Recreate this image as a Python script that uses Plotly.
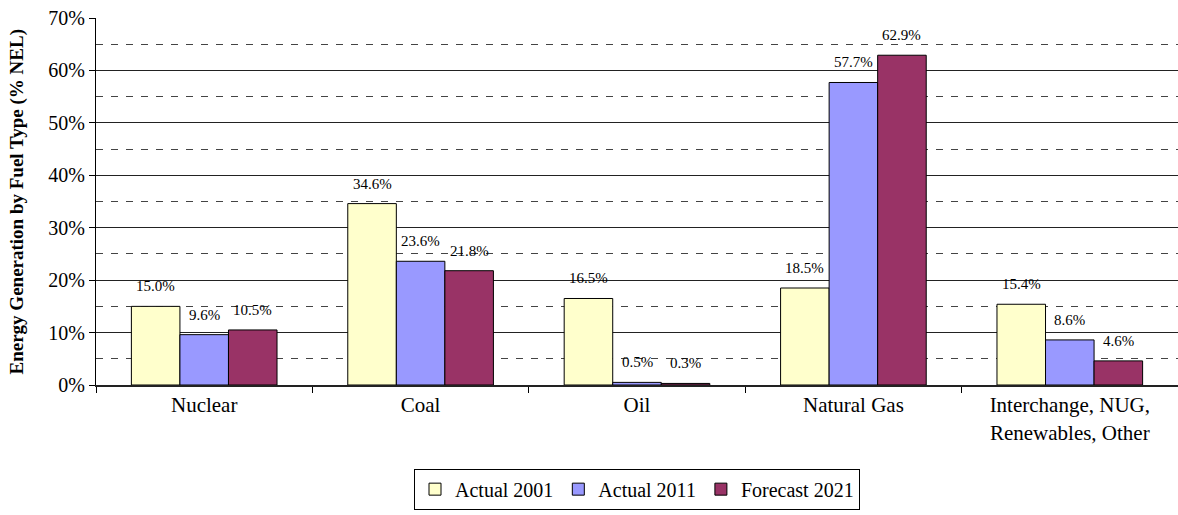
import plotly.graph_objects as go

categories = ["Nuclear", "Coal", "Oil", "Natural Gas", "Interchange, NUG,<br>Renewables, Other"]
series_names = ["Actual 2001", "Actual 2011", "Forecast 2021"]
actual_2001 = [15.0, 34.6, 16.5, 18.5, 15.4]
actual_2011 = [9.6, 23.6, 0.5, 57.7, 8.6]
forecast_2021 = [10.5, 21.8, 0.3, 62.9, 4.6]
y_ticks = [0, 10, 20, 30, 40, 50, 60, 70]

colors = ["#FFFFCC", "#9999FF", "#993366"]
series_values = [actual_2001, actual_2011, forecast_2021]
font_family = "Liberation Serif"

BARGAP = 0.327
bar_w = (1 - BARGAP) / 3
xs = list(range(len(categories)))

fig = go.Figure()
for name, vals, col in zip(series_names, series_values, colors):
    fig.add_trace(go.Bar(
        x=xs, y=vals, name=name,
        marker=dict(color=col, line=dict(color="black", width=1)),
    ))

annotations = []
for k, vals in enumerate(series_values):
    for i, v in enumerate(vals):
        annotations.append(dict(
            x=i + (k - 1) * bar_w, y=v, xref="x", yref="y",
            text=f"{v:.1f}%", showarrow=False,
            yanchor="middle", yshift=20,
            font=dict(family=font_family, size=15, color="black"),
        ))

annotations.append(dict(
    xref="paper", yref="paper", x=0, y=0.5, xshift=-80,
    xanchor="center", yanchor="middle", textangle=-90, showarrow=False,
    text="<b>Energy Generation by Fuel Type (% NEL)</b>",
    font=dict(family=font_family, size=19, color="black"),
))

fig.update_layout(
    width=1178, height=515,
    margin=dict(l=96, r=0, t=18, b=130, autoexpand=False),
    barmode="group", bargap=BARGAP, bargroupgap=0,
    plot_bgcolor="white", paper_bgcolor="white",
    font=dict(family=font_family, color="black"),
    annotations=annotations,
    showlegend=True,
    legend=dict(
        orientation="h", x=0.5, xanchor="center", xref="paper",
        yref="container", y=0.09, yanchor="top",
        bordercolor="black", borderwidth=1,
        font=dict(family=font_family, size=20),
        itemwidth=30, traceorder="normal",
    ),
    xaxis=dict(
        range=[-0.5, 4.5],
        tickvals=xs, ticktext=categories,
        ticks="", showgrid=False,
        showline=True, linecolor="#222", linewidth=2,
        tickfont=dict(family=font_family, size=21),
        minor=dict(tick0=0.5, dtick=1, ticks="outside", ticklen=6, tickcolor="black", showgrid=False),
    ),
    yaxis=dict(
        range=[0, 70],
        tickvals=y_ticks, ticktext=[f"{t}%" for t in y_ticks],
        ticks="outside", ticklen=6, tickcolor="black",
        showgrid=True, gridcolor="#222", gridwidth=1,
        showline=True, linecolor="black", linewidth=1,
        zeroline=False,
        tickfont=dict(family=font_family, size=20),
        minor=dict(tickvals=[5, 15, 25, 35, 45, 55, 65], showgrid=True,
                   gridcolor="#444", griddash="7px,8px", gridwidth=1, ticks=""),
    ),
)

fig.write_html("out.html")
